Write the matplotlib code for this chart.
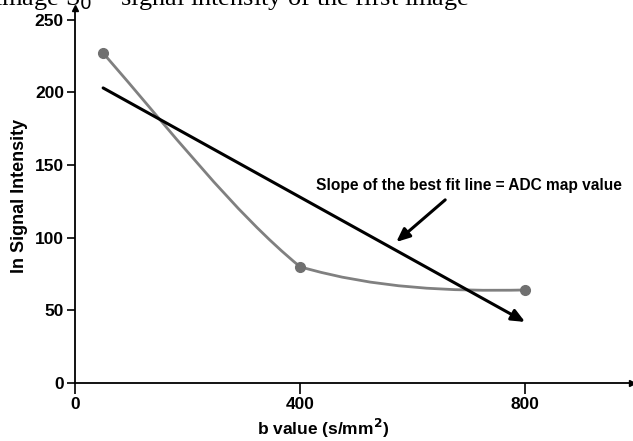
import matplotlib
matplotlib.use('Agg')
import matplotlib.pyplot as plt
from matplotlib.path import Path
from matplotlib.patches import PathPatch

# measured points (b value vs ln signal intensity)
b_values = [50, 400, 800]
signal = [227, 80, 64]

# best fit line end points
fit_x = [50, 800]
fit_y = [203, 42]

# annotation arrow (tail, head) and label
note_text = "Slope of the best fit line = ADC map value"
note_tail = (658, 126)
note_head = (571, 97)
note_pos = (700, 136)

x_ticks = [0, 400, 800]
y_ticks = [0, 50, 100, 150, 200, 250]

plt.rcParams['font.family'] = ['Liberation Sans', 'DejaVu Sans']

fig = plt.figure(figsize=(6.33, 4.41), dpi=100)
ax = fig.add_axes([75 / 633, 58 / 441, 557 / 633, 375 / 441])
ax.set_xlim(0, 990)
ax.set_ylim(0, 258)

# smooth curve through the points (cubic bezier segments)
p0, p1, p2 = list(zip(b_values, signal))
verts = [p0,
         (p0[0] + 117, p0[1] - 52), (p1[0] - 117, p1[1] + 37), p1,
         (p1[0] + 133, p1[1] - 15), (p2[0] - 133, p2[1] - 1), p2]
codes = [Path.MOVETO] + [Path.CURVE4] * 6
ax.add_patch(PathPatch(Path(verts, codes), fill=False, edgecolor='#808080', lw=2.0, zorder=2))
ax.plot(b_values, signal, 'o', color='#707070', ms=7, zorder=3)

# best fit line with arrow head
ax.annotate('', xy=(fit_x[1], fit_y[1]), xytext=(fit_x[0], fit_y[0]),
            arrowprops=dict(arrowstyle='-|>,head_length=0.8,head_width=0.35', color='black',
                            lw=2.2, shrinkA=0, shrinkB=0), zorder=4)

ax.annotate('', xy=note_head, xytext=note_tail,
            arrowprops=dict(arrowstyle='-|>,head_length=0.8,head_width=0.35', color='black',
                            lw=2.2, shrinkA=0, shrinkB=0))
ax.text(note_pos[0], note_pos[1], note_text, ha='center', va='center',
        fontsize=11.2, fontweight='bold')

for s in ['top', 'right']:
    ax.spines[s].set_visible(False)
ax.spines['left'].set_linewidth(1.3)
ax.spines['bottom'].set_linewidth(1.3)
ax.plot(1, 0, '>k', ms=5, transform=ax.get_yaxis_transform(), clip_on=False)
ax.plot(0, 1, '^k', ms=5, transform=ax.get_xaxis_transform(), clip_on=False)

ax.set_xticks(x_ticks)
ax.set_yticks(y_ticks)
ax.tick_params(axis='x', length=8, width=1.2, labelsize=12.5, pad=2)
ax.tick_params(axis='y', length=6, width=1.2, labelsize=12.5, pad=2)
for lbl in ax.get_xticklabels() + ax.get_yticklabels():
    lbl.set_fontweight('bold')

ax.set_xlabel('b value (s/mm$^\\mathbf{2}$)', fontsize=12.5, fontweight='bold', labelpad=2)
ax.xaxis.set_label_coords(441 / 990, -0.09)
ax.set_ylabel('In Signal Intensity', fontsize=13, fontweight='bold', labelpad=5)

# cropped caption from the page above the figure
fig.text(-6 / 633, 1 - 5 / 441, 'image S$_0$ = signal intensity of the first image',
         family='Liberation Serif', fontsize=19, va='baseline', ha='left')

fig.savefig('out.png', dpi=100)
